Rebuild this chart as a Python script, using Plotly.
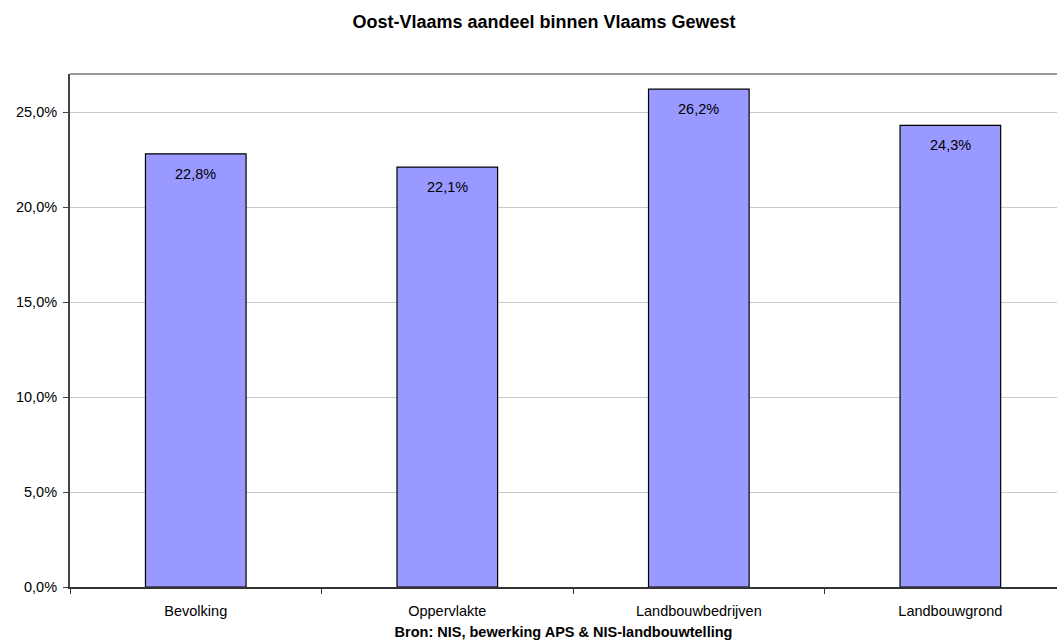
import plotly.graph_objects as go

# Oost-Vlaams aandeel binnen Vlaams Gewest (in %)
categories = ["Bevolking", "Oppervlakte", "Landbouwbedrijven", "Landbouwgrond"]
shares = [22.8, 22.1, 26.2, 24.3]
label_texts = ["22,8%", "22,1%", "26,2%", "24,3%"]
y_ticks = [0, 5, 10, 15, 20, 25]
y_tick_labels = ["0,0%", "5,0%", "10,0%", "15,0%", "20,0%", "25,0%"]

FONT = "Liberation Sans, Arial, sans-serif"

fig = go.Figure()

fig.add_trace(
    go.Bar(
        x=categories,
        y=shares,
        marker=dict(color="#9999FF", line=dict(color="#000000", width=1.2)),
        hoverinfo="x+y",
        showlegend=False,
    )
)

# data labels just under the top of each bar
for cat, val, txt in zip(categories, shares, label_texts):
    fig.add_annotation(
        x=cat, y=val, text=txt, showarrow=False,
        yanchor="top", yshift=-10,
        font=dict(family=FONT, size=14.5, color="#000000"),
    )

# grey frame line on top of the plot area
fig.add_shape(
    type="line", xref="paper", yref="paper",
    x0=0, x1=1, y0=1, y1=1,
    line=dict(color="#999999", width=2),
)

fig.update_layout(
    width=1057,
    height=643,
    margin=dict(l=70, r=0, t=74, b=56),
    paper_bgcolor="white",
    plot_bgcolor="white",
    separators=",.",
    bargap=0.6,
    font=dict(family=FONT, size=14.5, color="#000000"),
    title=dict(
        text="<b>Oost-Vlaams aandeel binnen Vlaams Gewest</b>",
        x=544 / 1057, xanchor="center",
        y=1 - 22 / 643, yanchor="middle",
        font=dict(family=FONT, size=18, color="#000000"),
    ),
)

fig.update_xaxes(
    range=[-0.5, 3.424],
    automargin=False,
    showline=True, linecolor="#333333", linewidth=2,
    ticks="outside", tickson="boundaries", ticklen=5,
    tickcolor="#333333", tickwidth=1,
    ticklabelstandoff=10,
    showgrid=False,
    title=dict(
        text="<b>Bron: NIS, bewerking APS &amp; NIS-landbouwtelling</b>",
        font=dict(family=FONT, size=14.5, color="#000000"),
        standoff=8,
    ),
)

fig.update_yaxes(
    range=[0, 27],
    automargin=False,
    tickvals=y_ticks,
    ticktext=y_tick_labels,
    showline=True, linecolor="#444444", linewidth=2,
    ticks="outside", ticklen=5, tickcolor="#444444", tickwidth=1,
    ticklabelstandoff=3,
    showgrid=True, gridcolor="#C8C8C8", gridwidth=1,
    zeroline=False,
)

# drop the default 8px body margin so the figure sits at the window corner
fig.write_html(
    "out.html",
    config={"displayModeBar": False},
    post_script="document.body.style.margin='0';",
)
